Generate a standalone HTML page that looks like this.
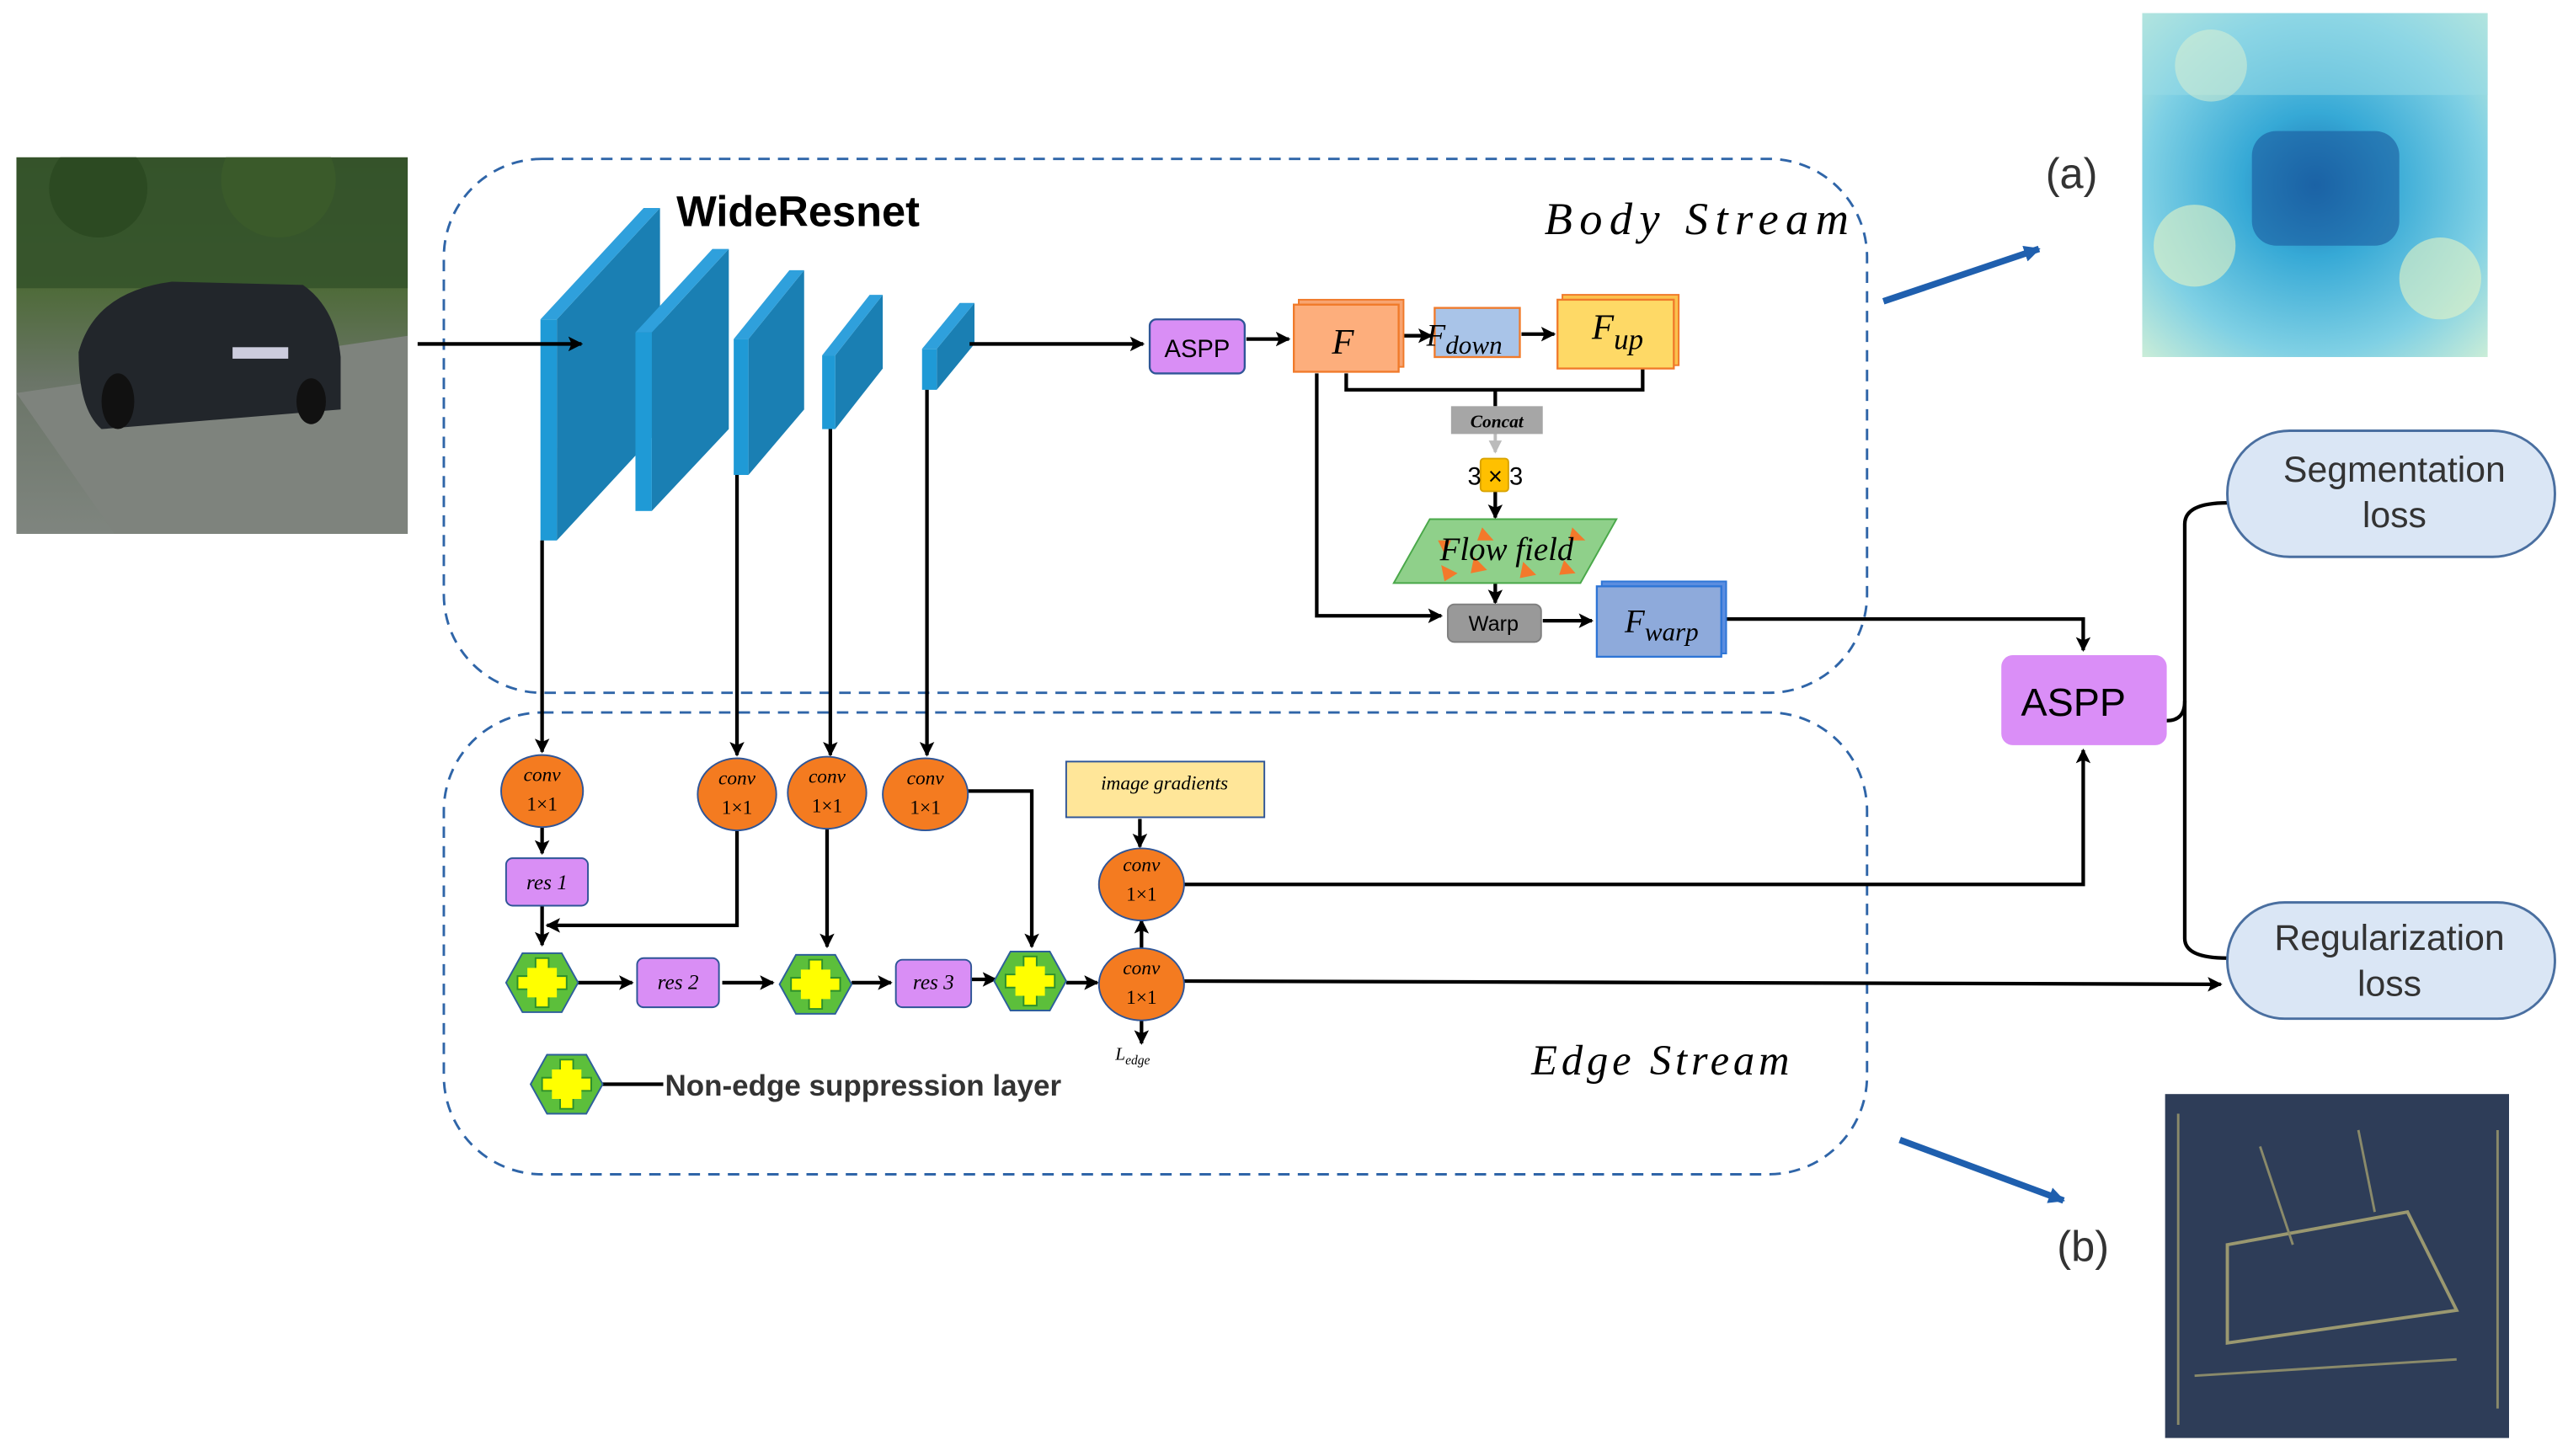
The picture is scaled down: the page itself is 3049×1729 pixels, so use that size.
<!DOCTYPE html>
<html><head><meta charset="utf-8"><style>html,body{margin:0;padding:0;background:#fff}svg{display:block}</style></head>
<body>
<svg width="3049" height="1729" viewBox="0 0 1568 889" preserveAspectRatio="none" xmlns="http://www.w3.org/2000/svg" font-family="Liberation Sans, sans-serif">
<defs>
<marker id="a" markerWidth="9" markerHeight="9" refX="8" refY="4.5" orient="auto" markerUnits="userSpaceOnUse"><path d="M0,0 L9,4.5 L0,9 L2,4.5 z" fill="#000"/></marker>
<marker id="ab" markerWidth="10" markerHeight="10" refX="9" refY="5" orient="auto" markerUnits="userSpaceOnUse"><path d="M0,0 L10,5 L0,10 z" fill="#1f5fae"/></marker>
<marker id="ag" markerWidth="8" markerHeight="8" refX="7" refY="4" orient="auto" markerUnits="userSpaceOnUse"><path d="M0,0 L8,4 L0,8 z" fill="#bbb"/></marker>
<linearGradient id="photo" x1="0" y1="0" x2="0" y2="1"><stop offset="0" stop-color="#3d5a2c"/><stop offset="0.35" stop-color="#4f6b3a"/><stop offset="0.6" stop-color="#6b7568"/><stop offset="1" stop-color="#7f857f"/></linearGradient>
<radialGradient id="heat" cx="0.5" cy="0.5" r="0.7"><stop offset="0" stop-color="#1b6fb0"/><stop offset="0.3" stop-color="#36a9d6"/><stop offset="0.7" stop-color="#7fd0e4"/><stop offset="1" stop-color="#c8ecd8"/></radialGradient>
<clipPath id="pc"><rect x="10" y="96" width="239" height="230"/></clipPath>
<clipPath id="hc"><rect x="1308" y="8" width="211" height="210"/></clipPath>
<g id="hex"><polygon points="-22,0 -12,-18 12,-18 22,0 12,18 -12,18" fill="#5cbf3b" stroke="#2d5f9a" stroke-width="1"/><path d="M-4,-15 L4,-15 L4,-4 L15,-4 L15,4 L4,4 L4,15 L-4,15 L-4,4 L-15,4 L-15,-4 L-4,-4 z" fill="#ffff00" stroke="#2d8f2b" stroke-width="1"/><polygon points="-9,-9 9,-9 9,9 -9,9" fill="#ffff00"/></g>
</defs>

<!-- photo -->
<g clip-path="url(#pc)">
<rect x="10" y="96" width="239" height="230" fill="url(#photo)"/>
<path d="M10,240 L249,205 L249,326 L70,326 z" fill="#7e837d"/>
<rect x="10" y="96" width="239" height="80" fill="#34522a" opacity="0.85"/>
<circle cx="60" cy="115" r="30" fill="#2c4a22"/><circle cx="170" cy="110" r="35" fill="#3a5a2a"/>
<path d="M48,215 Q58,178 105,172 L185,174 Q205,188 208,218 L208,250 L62,262 Q48,250 48,215z" fill="#22262b"/>
<rect x="142" y="212" width="34" height="7" fill="#ccd"/>
<ellipse cx="72" cy="245" rx="10" ry="17" fill="#111"/>
<ellipse cx="190" cy="245" rx="9" ry="14" fill="#111"/>
</g>

<!-- heatmap (a) -->
<g clip-path="url(#hc)">
<rect x="1308" y="8" width="211" height="210" fill="url(#heat)"/>
<rect x="1308" y="8" width="211" height="50" fill="#9adbe6" opacity="0.5"/>
<circle cx="1340" cy="150" r="25" fill="#e4f4c4" opacity="0.6"/><circle cx="1490" cy="170" r="25" fill="#e4f4c4" opacity="0.6"/><circle cx="1350" cy="40" r="22" fill="#dff2d0" opacity="0.5"/>
<rect x="1375" y="80" width="90" height="70" rx="15" fill="#1a5a9e" opacity="0.6"/>
</g>
<!-- edge image (b) -->
<rect x="1322" y="668" width="210" height="210" fill="#2e3d58"/>
<path d="M1360,760 L1470,740 L1500,800 L1360,820 z" fill="none" stroke="#9a9870" stroke-width="2"/>
<path d="M1330,680 L1330,870 M1525,690 L1525,860 M1380,700 L1400,760 M1440,690 L1450,740 M1340,840 L1500,830" stroke="#8a8a6a" stroke-width="1.5"/>

<!-- stream boxes -->
<rect x="271" y="97" width="869" height="326" rx="60" fill="none" stroke="#2f65a8" stroke-width="1.5" stroke-dasharray="7,5"/>
<rect x="271" y="435" width="869" height="282" rx="60" fill="none" stroke="#2f65a8" stroke-width="1.5" stroke-dasharray="7,5"/>

<text x="413" y="138" font-size="26" font-weight="bold">WideResnet</text>
<text x="943" y="143" font-size="28" font-style="italic" font-family="Liberation Serif, serif" letter-spacing="4.3">Body Stream</text>
<text x="935" y="656" font-size="26" font-style="italic" font-family="Liberation Serif, serif" letter-spacing="2.5">Edge Stream</text>

<!-- blocks -->
<polygon points="340,195 403,127 403,262 340,330" fill="#1a7fb3"/><rect x="330" y="195" width="10" height="135" fill="#1f9ad6"/><polygon points="330,195 340,195 403,127 393,127" fill="#2fa0dc"/>
<polygon points="398,203 445,152 445,262 398,312" fill="#1a7fb3"/><rect x="388" y="203" width="10" height="109" fill="#1f9ad6"/><polygon points="388,203 398,203 445,152 435,152" fill="#2fa0dc"/>
<polygon points="457,207 491,165 491,250 457,290" fill="#1a7fb3"/><rect x="448" y="207" width="9" height="83" fill="#1f9ad6"/><polygon points="448,207 457,207 491,165 482,165" fill="#2fa0dc"/>
<polygon points="510,217 539,180 539,225 510,262" fill="#1a7fb3"/><rect x="502" y="217" width="8" height="45" fill="#1f9ad6"/><polygon points="502,217 510,217 539,180 531,180" fill="#2fa0dc"/>
<polygon points="572,213 595,185 595,210 572,238" fill="#1a7fb3"/><rect x="563" y="213" width="9" height="25" fill="#1f9ad6"/><polygon points="563,213 572,213 595,185 586,185" fill="#2fa0dc"/>

<g stroke="#000" stroke-width="2.2" fill="none">
<line x1="255" y1="210" x2="355" y2="210" marker-end="url(#a)"/>
<line x1="592" y1="210" x2="698" y2="210" marker-end="url(#a)"/>
<line x1="761" y1="207" x2="787" y2="207" marker-end="url(#a)"/>
<line x1="856" y1="205" x2="874" y2="205" marker-end="url(#a)"/>
<line x1="929" y1="204" x2="949" y2="204" marker-end="url(#a)"/>
<path d="M822,228 L822,238 L1003,238 L1003,224"/>
<line x1="913" y1="238" x2="913" y2="248"/>
<line x1="913" y1="300" x2="913" y2="316" marker-end="url(#a)"/>
<line x1="913" y1="356" x2="913" y2="368" marker-end="url(#a)"/>
<path d="M804,228 L804,376 L880,376" marker-end="url(#a)"/>
<line x1="942" y1="379" x2="972" y2="379" marker-end="url(#a)"/>
<path d="M1052,378 L1272,378 L1272,397" marker-end="url(#a)"/>
<path d="M722,540 L1272,540 L1272,458" marker-end="url(#a)"/>
<line x1="722" y1="599" x2="1356" y2="601" marker-end="url(#a)"/>
<line x1="331" y1="330" x2="331" y2="459" marker-end="url(#a)"/>
<line x1="450" y1="290" x2="450" y2="461" marker-end="url(#a)"/>
<line x1="507" y1="262" x2="507" y2="461" marker-end="url(#a)"/>
<line x1="566" y1="238" x2="566" y2="461" marker-end="url(#a)"/>
<line x1="331" y1="504" x2="331" y2="521" marker-end="url(#a)"/>
<line x1="331" y1="553" x2="331" y2="577" marker-end="url(#a)"/>
<path d="M450,506 L450,565 L334,565" marker-end="url(#a)"/>
<line x1="505" y1="506" x2="505" y2="578" marker-end="url(#a)"/>
<path d="M590,483 L630,483 L630,578" marker-end="url(#a)"/>
<line x1="353" y1="600" x2="386" y2="600" marker-end="url(#a)"/>
<line x1="441" y1="600" x2="472" y2="600" marker-end="url(#a)"/>
<line x1="520" y1="600" x2="544" y2="600" marker-end="url(#a)"/>
<line x1="593" y1="598" x2="608" y2="598" marker-end="url(#a)"/>
<line x1="651" y1="600" x2="670" y2="600" marker-end="url(#a)"/>
<line x1="696" y1="500" x2="696" y2="517" marker-end="url(#a)"/>
<line x1="697" y1="580" x2="697" y2="562" marker-end="url(#a)"/>
<line x1="697" y1="622" x2="697" y2="637" marker-end="url(#a)"/>
<line x1="367" y1="662" x2="405" y2="662"/>
<path d="M1323,440 Q1334,440 1334,428 L1334,320 Q1334,307 1360,307"/>
<path d="M1334,428 L1334,573 Q1334,585 1360,585"/>
</g>
<line x1="913" y1="264" x2="913" y2="276" stroke="#bbb" stroke-width="2" marker-end="url(#ag)"/>

<!-- body nodes -->
<rect x="702" y="195" width="58" height="33" rx="4" fill="#d98ef5" stroke="#2f5597" stroke-width="1.2"/>
<text x="731" y="218" font-size="15" text-anchor="middle">ASPP</text>
<rect x="793" y="183" width="64" height="41" fill="#f8a470" stroke="#f07a2a"/>
<rect x="790" y="186" width="64" height="41" fill="#fdae7c" stroke="#f07a2a" stroke-width="1.2"/>
<text x="820" y="216" font-size="22" font-style="italic" font-family="Liberation Serif, serif" text-anchor="middle">F</text>
<rect x="876" y="188" width="52" height="30" fill="#a9c4e8" stroke="#f07a2a" stroke-width="1.2"/>
<text x="871" y="211" font-size="19" font-style="italic" font-family="Liberation Serif, serif">F<tspan font-size="16" dy="5">down</tspan></text>
<rect x="954" y="180" width="71" height="43" fill="#fbc14d" stroke="#f07a2a"/>
<rect x="951" y="183" width="71" height="42" fill="#fed966" stroke="#f07a2a" stroke-width="1.2"/>
<text x="972" y="207" font-size="22" font-style="italic" font-family="Liberation Serif, serif">F<tspan font-size="18" dy="6">up</tspan></text>
<rect x="886" y="248" width="56" height="17" fill="#a6a6a6"/>
<text x="914" y="261" font-size="11" font-weight="bold" font-style="italic" text-anchor="middle" font-family="Liberation Serif, serif">Concat</text>
<rect x="904" y="280" width="17" height="20" rx="2" fill="#ffc000" stroke="#d9a300"/>
<text x="913" y="296" font-size="15" text-anchor="middle">3 × 3</text>
<polygon points="873,317 987,317 965,356 851,356" fill="#8fd08a" stroke="#4aa84a"/>
<g fill="#f4792b"><polygon points="880,345 890,350 882,355"/><polygon points="900,340 908,348 898,350"/><polygon points="930,343 938,351 928,353"/><polygon points="955,342 962,350 952,351"/><polygon points="905,322 912,330 902,330"/><polygon points="960,322 968,330 958,330"/><polygon points="878,330 886,330 882,338"/></g>
<text x="920" y="342" font-size="20" font-style="italic" font-family="Liberation Serif, serif" text-anchor="middle">Flow field</text>
<rect x="884" y="369" width="57" height="23" rx="4" fill="#999" stroke="#7f7f7f"/>
<text x="912" y="385" font-size="13" text-anchor="middle">Warp</text>
<rect x="978" y="355" width="76" height="44" fill="#5b8de0" stroke="#2e75d6"/>
<rect x="975" y="358" width="76" height="43" fill="#8eaadb" stroke="#2e75d6" stroke-width="1.2"/>
<text x="992" y="386" font-size="20" font-style="italic" font-family="Liberation Serif, serif">F<tspan font-size="16" dy="5">warp</tspan></text>

<!-- right -->
<rect x="1222" y="400" width="101" height="55" rx="7" fill="#da8ef7"/>
<text x="1266" y="437" font-size="24" text-anchor="middle">ASPP</text>
<rect x="1360" y="263" width="200" height="77" rx="38" fill="#dae6f5" stroke="#4a6fa0" stroke-width="1.5"/>
<text x="1462" y="294" font-size="22" text-anchor="middle" fill="#333">Segmentation</text>
<text x="1462" y="322" font-size="22" text-anchor="middle" fill="#333">loss</text>
<rect x="1360" y="551" width="200" height="71" rx="35" fill="#dae6f5" stroke="#4a6fa0" stroke-width="1.5"/>
<text x="1459" y="580" font-size="22" text-anchor="middle" fill="#333">Regularization</text>
<text x="1459" y="608" font-size="22" text-anchor="middle" fill="#333">loss</text>
<line x1="1150" y1="184" x2="1245" y2="152" stroke="#1f5fae" stroke-width="4" marker-end="url(#ab)"/>
<line x1="1160" y1="696" x2="1260" y2="733" stroke="#1f5fae" stroke-width="4" marker-end="url(#ab)"/>
<text x="1249" y="115" font-size="26" fill="#333">(a)</text>
<text x="1256" y="770" font-size="26" fill="#333">(b)</text>

<!-- edge nodes -->
<g font-family="Liberation Serif, serif">
<g fill="#f47b20" stroke="#2f5597" stroke-width="1">
<ellipse cx="331" cy="483" rx="25" ry="22"/><ellipse cx="450" cy="485" rx="24" ry="22"/><ellipse cx="505" cy="484" rx="24" ry="22"/><ellipse cx="565" cy="485" rx="26" ry="22"/><ellipse cx="697" cy="540" rx="26" ry="22"/><ellipse cx="697" cy="601" rx="26" ry="22"/>
</g>
<g font-size="12" text-anchor="middle"><text x="331" y="477" font-style="italic">conv</text><text x="331" y="495">1×1</text>
<text x="450" y="479" font-style="italic">conv</text><text x="450" y="497">1×1</text>
<text x="505" y="478" font-style="italic">conv</text><text x="505" y="496">1×1</text>
<text x="565" y="479" font-style="italic">conv</text><text x="565" y="497">1×1</text>
<text x="697" y="532" font-style="italic">conv</text><text x="697" y="550">1×1</text>
<text x="697" y="595" font-style="italic">conv</text><text x="697" y="613">1×1</text></g>
<g fill="#d98ef5" stroke="#2f5597" stroke-width="1"><rect x="309" y="524" width="50" height="29" rx="4"/><rect x="389" y="585" width="50" height="30" rx="4"/><rect x="547" y="586" width="46" height="29" rx="4"/></g>
<g font-size="13" font-style="italic" text-anchor="middle"><text x="334" y="543">res 1</text><text x="414" y="604">res 2</text><text x="570" y="604">res 3</text></g>
<rect x="651" y="465" width="121" height="34" fill="#ffe699" stroke="#2f5597" stroke-width="1"/>
<text x="711" y="482" font-size="12" font-style="italic" text-anchor="middle">image gradients</text>
<text x="681" y="647" font-size="11" font-style="italic">L<tspan font-size="8" dy="3">edge</tspan></text>
</g>
<use href="#hex" x="331" y="600"/><use href="#hex" x="498" y="601"/><use href="#hex" x="629" y="599"/><use href="#hex" x="346" y="662"/>
<text x="406" y="669" font-size="18" font-weight="bold" fill="#333">Non-edge suppression layer</text>
</svg>
</body></html>
